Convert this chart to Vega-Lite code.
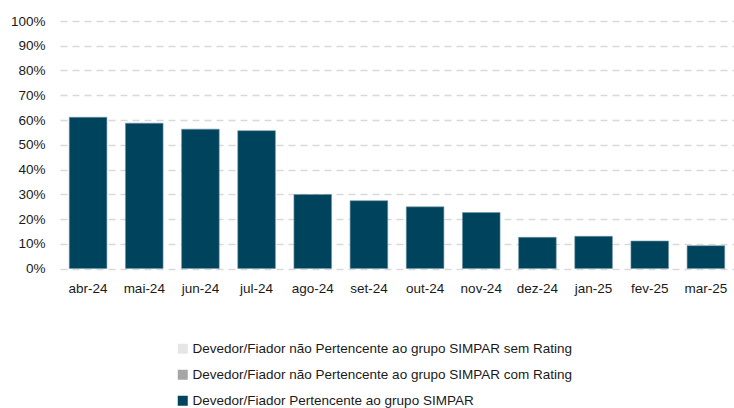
{
  "$schema": "https://vega.github.io/schema/vega-lite/v6.json",
  "width": 674,
  "height": 247.5,
  "autosize": {"type": "none"},
  "padding": {"left": 60, "top": 21, "right": 0, "bottom": 139.5},
  "background": "white",
  "config": {
    "view": {"stroke": null},
    "font": "Liberation Sans",
    "axis": {"labelFont": "Liberation Sans", "labelColor": "#1a1a1a", "labelFontSize": 13.5}
  },
  "data": {
    "values": [
      {"mes": "abr-24", "serie": "Devedor/Fiador Pertencente ao grupo SIMPAR", "valor": 0.611},
      {"mes": "mai-24", "serie": "Devedor/Fiador Pertencente ao grupo SIMPAR", "valor": 0.587},
      {"mes": "jun-24", "serie": "Devedor/Fiador Pertencente ao grupo SIMPAR", "valor": 0.563},
      {"mes": "jul-24", "serie": "Devedor/Fiador Pertencente ao grupo SIMPAR", "valor": 0.557},
      {"mes": "ago-24", "serie": "Devedor/Fiador Pertencente ao grupo SIMPAR", "valor": 0.299},
      {"mes": "set-24", "serie": "Devedor/Fiador Pertencente ao grupo SIMPAR", "valor": 0.274},
      {"mes": "out-24", "serie": "Devedor/Fiador Pertencente ao grupo SIMPAR", "valor": 0.249},
      {"mes": "nov-24", "serie": "Devedor/Fiador Pertencente ao grupo SIMPAR", "valor": 0.226},
      {"mes": "dez-24", "serie": "Devedor/Fiador Pertencente ao grupo SIMPAR", "valor": 0.126},
      {"mes": "jan-25", "serie": "Devedor/Fiador Pertencente ao grupo SIMPAR", "valor": 0.130},
      {"mes": "fev-25", "serie": "Devedor/Fiador Pertencente ao grupo SIMPAR", "valor": 0.111},
      {"mes": "mar-25", "serie": "Devedor/Fiador Pertencente ao grupo SIMPAR", "valor": 0.092}
    ]
  },
  "mark": {"type": "bar", "stroke": "#6f96a6", "strokeWidth": 0.6},
  "encoding": {
    "x": {
      "field": "mes",
      "type": "nominal",
      "sort": null,
      "title": null,
      "scale": {"paddingInner": 0.33, "paddingOuter": 0.165},
      "axis": {"labelAngle": 0, "domain": false, "ticks": false, "labelPadding": 13, "grid": false}
    },
    "y": {
      "field": "valor",
      "type": "quantitative",
      "title": null,
      "scale": {"domain": [0, 1], "nice": false},
      "axis": {
        "format": ".0%",
        "values": [0, 0.1, 0.2, 0.3, 0.4, 0.5, 0.6, 0.7, 0.8, 0.9, 1],
        "domain": false,
        "ticks": false,
        "labelPadding": 15,
        "grid": true,
        "gridColor": "#d9d9d9",
        "gridDash": [7, 5],
        "gridWidth": 1.5
      }
    },
    "color": {
      "field": "serie",
      "type": "nominal",
      "title": null,
      "scale": {
        "domain": [
          "Devedor/Fiador não Pertencente ao grupo SIMPAR sem Rating",
          "Devedor/Fiador não Pertencente ao grupo SIMPAR com Rating",
          "Devedor/Fiador Pertencente ao grupo SIMPAR"
        ],
        "range": ["#e6e6e6", "#a6a6a6", "#00435d"]
      },
      "legend": {
        "orient": "none",
        "legendX": 116,
        "legendY": 321,
        "symbolType": "square",
        "symbolSize": 100,
        "symbolStrokeWidth": 0,
        "labelFont": "Liberation Sans",
        "labelFontSize": 13.5,
        "labelColor": "#1a1a1a",
        "labelLimit": 500,
        "labelOffset": 3,
        "rowPadding": 11
      }
    }
  }
}
